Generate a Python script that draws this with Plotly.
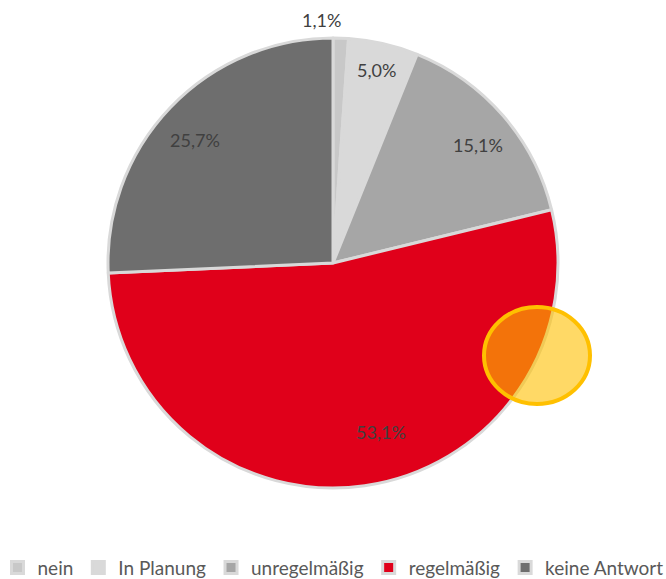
import math
import plotly.graph_objects as go

categories = ["nein", "In Planung", "unregelmäßig", "regelmäßig", "keine Antwort"]
values = [1.1, 5.0, 15.1, 53.1, 25.7]
colors = ["#c8c8c8", "#d9d9d9", "#a6a6a6", "#e0001a", "#6e6e6e"]

# label placement (style): radial distance as a fraction of the pie radius,
# and small angular nudges (degrees) away from the slice middle
label_radius = [1.08, 0.88, 0.83, 0.78, 0.82]
label_shift_deg = [-4.8, -0.4, 1.8, -7.8, -2.0]

W, H = 666, 579
cx, cy, R = 333, 263, 225

fig = go.Figure(go.Pie(
    labels=categories,
    values=values,
    sort=False,
    direction="clockwise",
    rotation=0,
    marker=dict(colors=colors, line=dict(color="#d9d9d9", width=3)),
    textinfo="none",
    domain=dict(x=[(cx - R) / W, (cx + R) / W],
                y=[(H - cy - R) / H, (H - cy + R) / H]),
    hoverinfo="label+percent",
))

total = sum(values)
cum = 0.0
for v, rf, sh in zip(values, label_radius, label_shift_deg):
    mid = (cum + v / 2) / total * 2 * math.pi + math.radians(sh)
    cum += v
    px = cx + rf * R * math.sin(mid)
    py = cy - rf * R * math.cos(mid)
    fig.add_annotation(
        x=px / W, y=(H - py) / H, xref="paper", yref="paper",
        xanchor="center", yanchor="middle",
        text=f"{v / total * 100:.1f}%".replace(".", ","),
        showarrow=False,
        font=dict(family="Lato", size=18, color="#404040"),
    )

fig.add_shape(type="circle", xref="paper", yref="paper",
              x0=484 / W, x1=590 / W, y0=(H - 404) / H, y1=(H - 307) / H,
              line=dict(color="#ffc000", width=4),
              fillcolor="rgba(255,192,0,0.6)", layer="above")

fig.update_layout(
    width=W, height=H,
    margin=dict(l=0, r=0, t=0, b=0, autoexpand=False),
    paper_bgcolor="white",
    plot_bgcolor="white",
    separators=",.",
    showlegend=True,
    legend=dict(orientation="h", x=0.5, xanchor="center", y=-0.013, yanchor="bottom",
                font=dict(family="Lato", size=19, color="#595959"),
                itemwidth=30, tracegroupgap=0),
)

fig.write_html("out.html",
               config={"displayModeBar": False},
               post_script="document.body.style.margin='0px';document.body.style.overflow='hidden';")
